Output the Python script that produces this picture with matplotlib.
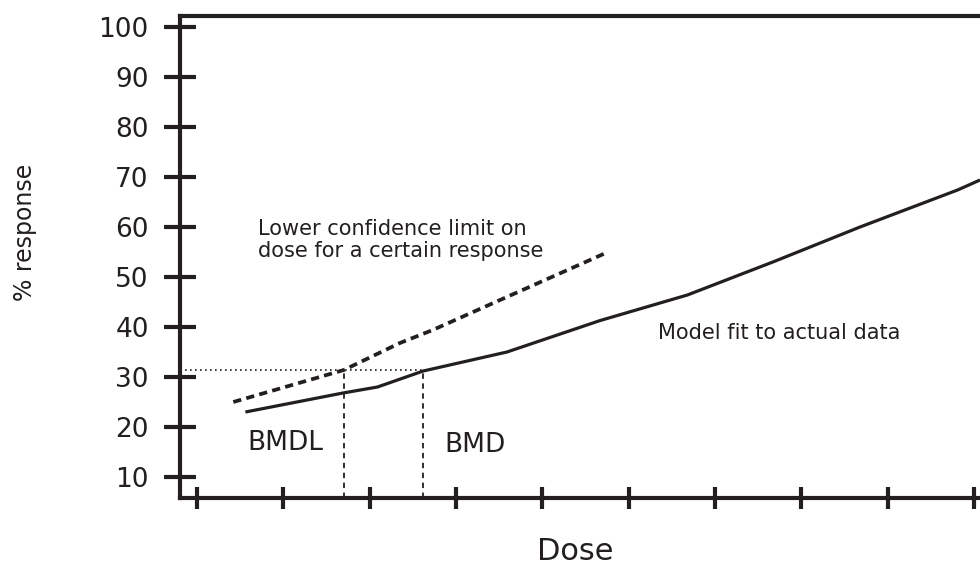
import numpy as np
import matplotlib
matplotlib.use('Agg')
import matplotlib.pyplot as plt

# datos
fit_x = [0.56, 1.69, 2.09, 2.62, 3.59, 4.67, 5.68, 6.67, 7.68, 8.81, 9.07]
fit_y = [23.0, 26.8, 28.0, 31.2, 35.0, 41.3, 46.4, 53.0, 60.0, 67.4, 69.4]

lcl_x = [0.42, 1.70, 2.35, 2.73, 3.51, 4.76]
lcl_y = [25.0, 31.4, 36.8, 39.4, 45.4, 55.0]

bmr = 31.4      # respuesta de referencia
bmdl = 1.70
bmd = 2.62

y_ticks = [10, 20, 30, 40, 50, 60, 70, 80, 90, 100]
x_ticks = [0, 1, 2, 3, 4, 5, 6, 7, 8, 9]

negro = '#231f20'
plt.rcParams['font.family'] = ['DejaVu Sans']

fig = plt.figure(figsize=(9.8, 5.64), dpi=100)
ax = fig.add_axes([0.1837, 0.117, 0.8163, 0.8546])

ax.plot(fit_x, fit_y, color=negro, lw=2.3, solid_capstyle='butt')
ax.plot(lcl_x, lcl_y, color=negro, lw=2.7, linestyle=(0, (2.2, 1.4)),
        dash_capstyle='butt')

ax.hlines(bmr, -0.2, bmd, color=negro, lw=1.2, linestyles=(0, (1, 2)))
ax.vlines([bmdl, bmd], 5.8, bmr, color=negro, lw=1.3, linestyles=(0, (3, 2.5)))

ax.text(0.707, 57.4, 'Lower confidence limit on\ndose for a certain response',
        fontsize=15, color=negro, va='center', ha='left', linespacing=1.1)
ax.text(5.34, 38.8, 'Model fit to actual data', fontsize=15, color=negro,
        va='center', ha='left')
ax.text(0.58, 16.8, 'BMDL', fontsize=19, color=negro, va='center', ha='left')
ax.text(2.87, 16.4, 'BMD', fontsize=19, color=negro, va='center', ha='left')

ax.set_xlim(-0.197, 9.07)
ax.set_ylim(5.8, 102.2)
ax.set_yticks(y_ticks)
ax.set_xticks(x_ticks)
ax.set_xticklabels([])
ax.tick_params(axis='y', direction='inout', length=23, width=3, colors=negro,
               labelsize=19, pad=11)
ax.tick_params(axis='x', direction='inout', length=16, width=3, colors=negro)

for s in ['left', 'bottom', 'top']:
    ax.spines[s].set_linewidth(3)
    ax.spines[s].set_color(negro)
ax.spines['right'].set_visible(False)

ax.set_ylabel('% response', fontsize=17, color=negro)
ax.yaxis.set_label_coords(-0.194, 0.552)
ax.yaxis.label.set_verticalalignment('center')
ax.set_xlabel('Dose', fontsize=22, color=negro)
ax.xaxis.set_label_coords(0.494, -0.11)
ax.xaxis.label.set_verticalalignment('center')

fig.savefig('out.png', dpi=100)
